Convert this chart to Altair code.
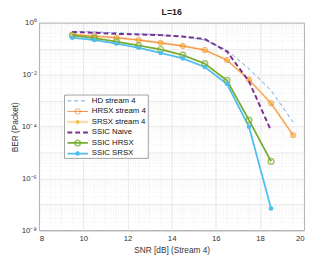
import altair as alt
import pandas as pd

snr = [9.5, 10.5, 11.5, 12.5, 13.5, 14.5, 15.5, 16.5, 17.5, 18.5, 19.5]
hd_stream4 = [0.47, 0.45, 0.42, 0.38, 0.35, 0.30, 0.22, 0.09, 0.017, 0.0025, 1.5e-4]
hrsx_stream4 = [0.36, 0.31, 0.27, 0.22, 0.17, 0.13, 0.09, 0.037, 0.0065, 8e-4, 4.7e-5]
srsx_stream4 = [0.36, 0.31, 0.27, 0.22, 0.17, 0.13, 0.09, 0.037, 0.0065, 8e-4, 4.7e-5]
ssic_naive = [0.45, 0.42, 0.38, 0.36, 0.34, 0.30, 0.24, 0.08, 0.0056, 7e-5]
ssic_hrsx = [0.33, 0.26, 0.19, 0.135, 0.095, 0.058, 0.027, 0.0061, 1.8e-4, 4.6e-6]
ssic_srsx = [0.27, 0.22, 0.16, 0.11, 0.07, 0.043, 0.02, 0.0045, 1e-4, 7e-8]

series_names = ["HD stream 4", "HRSX stream 4", "SRSX stream 4",
                "SSIC Naive", "SSIC HRSX", "SSIC SRSX"]
series_values = [hd_stream4, hrsx_stream4, srsx_stream4, ssic_naive, ssic_hrsx, ssic_srsx]

x_ticks = [8, 10, 12, 14, 16, 18, 20]
y_ticks = [1e0, 1e-1, 1e-2, 1e-3, 1e-4, 1e-5, 1e-6, 1e-7, 1e-8]
x_minor = [v / 2 for v in range(16, 41) if v % 4 != 0]
y_minor = [k * 10.0 ** d for d in range(-8, 0) for k in range(2, 10)]

FONT = "Liberation Sans"
W, H = 272, 213

colors = {"HD stream 4": "#3f93dc", "HRSX stream 4": "#ee8030", "SRSX stream 4": "#fbdcaa",
          "SSIC Naive": "#7e2f8e", "SSIC HRSX": "#77ac30", "SSIC SRSX": "#4dbeee"}
dashes = {"HD stream 4": [4, 3], "HRSX stream 4": [1, 0], "SRSX stream 4": [1, 0],
          "SSIC Naive": [5, 3], "SSIC HRSX": [1, 0], "SSIC SRSX": [1, 0]}
widths = {"HD stream 4": 0.8, "HRSX stream 4": 1.0, "SRSX stream 4": 2.5,
          "SSIC Naive": 2, "SSIC HRSX": 1.8, "SSIC SRSX": 1.8}

rows = []
for name, vals in zip(series_names, series_values):
    for s, b in zip(snr, vals):
        rows.append({"series": name, "snr": s, "ber": b})
df = pd.DataFrame(rows)

label_expr = ("round(log(datum.value)/LN10) % 2 != 0 ? '' : "
              "'10' + (round(log(datum.value)/LN10) < 0 ? '⁻' : '') + "
              "(abs(round(log(datum.value)/LN10)) == 0 ? '⁰' : "
              "abs(round(log(datum.value)/LN10)) == 2 ? '²' : "
              "abs(round(log(datum.value)/LN10)) == 4 ? '⁴' : "
              "abs(round(log(datum.value)/LN10)) == 6 ? '⁶' : '⁸')")

X = alt.X("snr:Q", scale=alt.Scale(domain=[8, 20], nice=False, zero=False),
          axis=alt.Axis(values=x_ticks, format="d", title="SNR [dB] (Stream 4)",
                        grid=True, gridColor="#dedede", gridWidth=0.7,
                        ticks=False, domain=False, labelPadding=4,
                        labelFont=FONT, labelFontSize=8, labelColor="#333",
                        titleFont=FONT, titleFontSize=8.5, titleFontWeight="normal",
                        titleColor="#333", titlePadding=4))
Y = alt.Y("ber:Q", scale=alt.Scale(type="log", domain=[1e-8, 1], nice=False),
          axis=alt.Axis(values=y_ticks, labelExpr=label_expr, title="BER (Packet)",
                        grid=True, gridColor="#dedede", gridWidth=0.7,
                        ticks=False, domain=False, labelPadding=3,
                        labelFont=FONT, labelFontSize=8, labelColor="#333",
                        titleFont=FONT, titleFontSize=8.5, titleFontWeight="normal",
                        titleColor="#333", titlePadding=2))

grid_y = alt.Chart(pd.DataFrame({"ber": y_minor})).mark_rule(
    color="#e4e4e4", strokeWidth=0.6, strokeDash=[1, 1.5]).encode(y=Y)
grid_x = alt.Chart(pd.DataFrame({"snr": x_minor})).mark_rule(
    color="#e4e4e4", strokeWidth=0.6, strokeDash=[1, 1.5]).encode(x=X)


def line(name):
    return alt.Chart(df[df.series == name]).mark_line(
        color=colors[name], strokeWidth=widths[name], strokeDash=dashes[name],
        clip=True).encode(x=X, y=Y)


ASTER = "M-1,0L1,0M0,-1L0,1M-0.7,-0.7L0.7,0.7M-0.7,0.7L0.7,-0.7"

pts_hrsx = alt.Chart(df[df.series == "HRSX stream 4"]).mark_point(
    shape="circle", filled=False, color=colors["HRSX stream 4"], size=30, strokeWidth=1
).encode(x=X, y=Y)
pts_srsx = alt.Chart(df[df.series == "SRSX stream 4"]).mark_point(
    shape=ASTER, filled=False, color="#edb120", size=14, strokeWidth=1.2
).encode(x=X, y=Y)
pts_shrsx = alt.Chart(df[df.series == "SSIC HRSX"]).mark_point(
    shape="circle", filled=False, color=colors["SSIC HRSX"], size=34, strokeWidth=1.5
).encode(x=X, y=Y)
pts_ssrsx = alt.Chart(df[df.series == "SSIC SRSX"]).mark_point(
    shape="circle", filled=True, color=colors["SSIC SRSX"], size=22, opacity=1
).encode(x=X, y=Y)

main = alt.layer(
    grid_y, grid_x,
    line("HD stream 4"), line("SRSX stream 4"), line("HRSX stream 4"),
    pts_hrsx, pts_srsx,
    line("SSIC Naive"), line("SSIC HRSX"), line("SSIC SRSX"),
    pts_shrsx, pts_ssrsx,
)

# legend
leg_df = pd.DataFrame({"series": series_names})
LY = alt.Y("series:N", scale=alt.Scale(type="point", domain=series_names,
                                       range=[80, 134], padding=0), axis=None)
leg_box = alt.Chart(pd.DataFrame({"a": [0]})).mark_rect(
    fill="white", stroke="#8a8a8a", strokeWidth=0.8
).encode(x=alt.value(26), x2=alt.value(112), y=alt.value(74), y2=alt.value(139))


def leg_line(name):
    return alt.Chart(leg_df[leg_df.series == name]).mark_rule(
        color=colors[name], strokeWidth=widths[name], strokeDash=dashes[name]
    ).encode(x=alt.value(29), x2=alt.value(50), y=LY)


leg_markers = [
    alt.Chart(leg_df[leg_df.series == "HRSX stream 4"]).mark_point(
        shape="circle", filled=False, color=colors["HRSX stream 4"], size=30, strokeWidth=1
    ).encode(x=alt.value(39.5), y=LY),
    alt.Chart(leg_df[leg_df.series == "SRSX stream 4"]).mark_point(
        shape=ASTER, filled=False, color="#edb120", size=14, strokeWidth=1.2
    ).encode(x=alt.value(39.5), y=LY),
    alt.Chart(leg_df[leg_df.series == "SSIC HRSX"]).mark_point(
        shape="circle", filled=False, color=colors["SSIC HRSX"], size=34, strokeWidth=1.5
    ).encode(x=alt.value(39.5), y=LY),
    alt.Chart(leg_df[leg_df.series == "SSIC SRSX"]).mark_point(
        shape="circle", filled=True, color=colors["SSIC SRSX"], size=22, opacity=1
    ).encode(x=alt.value(39.5), y=LY),
]
leg_text = alt.Chart(leg_df).mark_text(
    align="left", baseline="middle", font=FONT, fontSize=8, color="#111"
).encode(x=alt.value(54), y=LY, text="series:N")

legend = alt.layer(leg_box, *[leg_line(n) for n in series_names], *leg_markers, leg_text)

chart = alt.layer(main, legend).resolve_scale(y="independent").properties(
    width=W, height=H,
    title=alt.TitleParams("L=16", font=FONT, fontSize=9, fontWeight="bold",
                          color="#222", offset=2, anchor="middle"),
    autosize=alt.AutoSizeParams(type="none"),
    padding={"left": 32, "top": 12, "right": 7, "bottom": 29},
).configure_view(stroke="#555", strokeWidth=0.8)

chart.save("out.html", embed_options={"renderer": "svg", "actions": False})
